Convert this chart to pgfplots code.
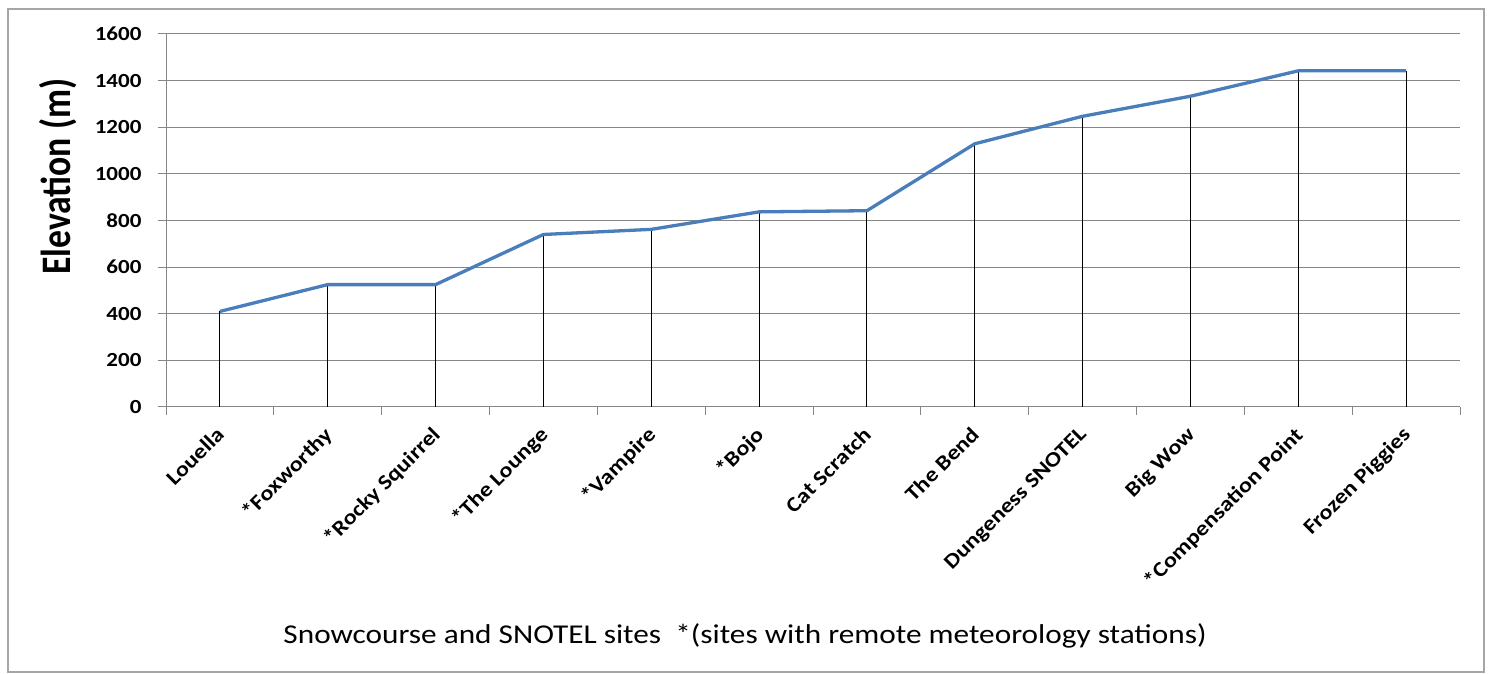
\documentclass[border=0pt]{standalone}
\usepackage{pgfplots}
\pgfplotsset{compat=1.18}
\usepackage{fontspec}
\setmainfont{Carlito}[FakeStretch=1.15]
\newfontfamily\ylabfont{Carlito}[FakeStretch=0.85]
\definecolor{lineblue}{RGB}{74,126,187}
\definecolor{gridgray}{RGB}{134,134,134}
\definecolor{bordergray}{RGB}{166,166,166}
\pgfplotstableread{
x y
0 410
1 525
2 525
3 740
4 762
5 837
6 842
7 1129
8 1247
9 1333
10 1442
11 1442
}\elev
\begin{document}
\begin{tikzpicture}[x=1pt,y=1pt]
\useasboundingbox (0,0) rectangle (1491,674);
\draw[bordergray, line width=1.5pt] (8,2) rectangle (1484,665);
\begin{axis}[
  at={(166pt,267pt)}, anchor=south west,
  scale only axis, width=1294pt, height=373pt,
  xmin=-0.5, xmax=11.5, ymin=0, ymax=1600,
  axis lines*=left,
  axis line style={-, draw=gridgray, line width=1pt},
  ytick={0,200,...,1600},
  ymajorgrids, grid style={gridgray, line width=1pt},
  xtick={0,...,11},
  xticklabels={Louella,*Foxworthy,*Rocky Squirrel,*The Lounge,*Vampire,*Bojo,Cat Scratch,The Bend,Dungeness SNOTEL,Big Wow,*Compensation Point,Frozen Piggies},
  minor xtick={-0.5,0.5,...,11.5},
  tick align=outside,
  x tick style={draw=none},
  minor x tick style={draw=gridgray, line width=1pt},
  minor tick length=8pt,
  y tick style={draw=gridgray, line width=1pt},
  major tick length=8pt,
  /pgf/number format/assume math mode=true,
  /pgf/number format/1000 sep={},
  yticklabel style={font=\bfseries\fontsize{20}{20}\selectfont, xshift=-13pt},
  xticklabel style={font=\bfseries\fontsize{21}{21}\selectfont, rotate=45, anchor=north east, xshift=-7.4pt, yshift=-0.4pt},
  xlabel={Snowcourse and SNOTEL sites\ \ *(sites with remote meteorology stations)},
  xlabel style={font=\fontsize{27.2}{27.2}\selectfont, at={(axis description cs:0.4475,-0.614)}, anchor=center},
  clip=false,
]
\addplot[ycomb, black, line width=1pt, mark=none] table[x=x,y=y] {\elev};
\addplot[lineblue, line width=3.3pt, mark=none, line join=round] table[x=x,y=y] {\elev};
\node[rotate=90, anchor=center, inner sep=0pt, font=\ylabfont\bfseries\fontsize{42}{42}\selectfont] at (axis description cs:-0.0835,0.617) {Elevation (m)};
\end{axis}
\end{tikzpicture}
\end{document}
